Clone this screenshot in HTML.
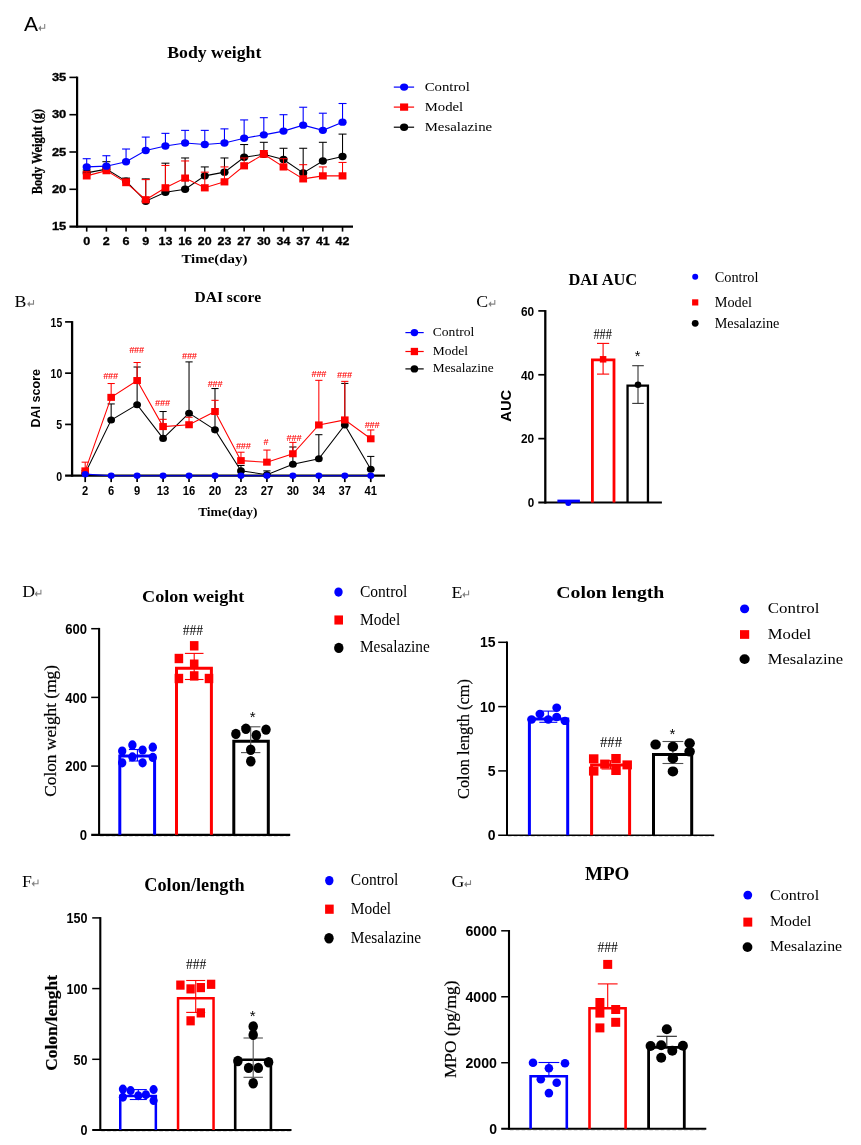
<!DOCTYPE html>
<html><head><meta charset="utf-8"><title>Figure</title>
<style>html,body{margin:0;padding:0;background:#fff;}body{width:861px;height:1145px;overflow:hidden;}svg{display:block;will-change:transform;}text{white-space:pre;}</style>
</head><body>
<svg width="861" height="1145" viewBox="0 0 861 1145">
<rect width="861" height="1145" fill="#fff"/>
<g id="panelA">
<text x="24.0" y="30.9" font-family="'Liberation Sans', sans-serif" font-size="21" font-weight="normal" text-anchor="start" fill="#000" >A</text>
<g transform="translate(38.30,28.30) scale(1.0)"><path d="M6.4 -4.2 V0 H1.6" stroke="#848484" stroke-width="1.1" fill="none"/><path d="M0 0 L2.7 -2.9 L2.7 2.9 Z" fill="#848484"/></g>
<text x="214.3" y="57.5" font-family="'Liberation Serif', serif" font-size="16" font-weight="bold" text-anchor="middle" fill="#000" textLength="94" lengthAdjust="spacingAndGlyphs" >Body weight</text>
<line x1="77.10" y1="76.60" x2="77.10" y2="227.60" stroke="#000" stroke-width="2.2" />
<line x1="69.40" y1="226.60" x2="353.00" y2="226.60" stroke="#000" stroke-width="2.2" />
<text x="66.3" y="230.29999999999998" font-family="'Liberation Sans', sans-serif" font-size="10.3" font-weight="bold" text-anchor="end" fill="#000" textLength="14.4" lengthAdjust="spacingAndGlyphs" stroke="#000" stroke-width="0.3">15</text>
<line x1="69.40" y1="189.30" x2="77.10" y2="189.30" stroke="#000" stroke-width="1.6" />
<text x="66.3" y="193.0" font-family="'Liberation Sans', sans-serif" font-size="10.3" font-weight="bold" text-anchor="end" fill="#000" textLength="14.4" lengthAdjust="spacingAndGlyphs" stroke="#000" stroke-width="0.3">20</text>
<line x1="69.40" y1="152.00" x2="77.10" y2="152.00" stroke="#000" stroke-width="1.6" />
<text x="66.3" y="155.7" font-family="'Liberation Sans', sans-serif" font-size="10.3" font-weight="bold" text-anchor="end" fill="#000" textLength="14.4" lengthAdjust="spacingAndGlyphs" stroke="#000" stroke-width="0.3">25</text>
<line x1="69.40" y1="114.70" x2="77.10" y2="114.70" stroke="#000" stroke-width="1.6" />
<text x="66.3" y="118.4" font-family="'Liberation Sans', sans-serif" font-size="10.3" font-weight="bold" text-anchor="end" fill="#000" textLength="14.4" lengthAdjust="spacingAndGlyphs" stroke="#000" stroke-width="0.3">30</text>
<line x1="69.40" y1="77.40" x2="77.10" y2="77.40" stroke="#000" stroke-width="1.6" />
<text x="66.3" y="81.10000000000001" font-family="'Liberation Sans', sans-serif" font-size="10.3" font-weight="bold" text-anchor="end" fill="#000" textLength="14.4" lengthAdjust="spacingAndGlyphs" stroke="#000" stroke-width="0.3">35</text>
<line x1="86.70" y1="226.60" x2="86.70" y2="231.60" stroke="#000" stroke-width="1.6" />
<text x="86.7" y="244.6" font-family="'Liberation Sans', sans-serif" font-size="10.6" font-weight="bold" text-anchor="middle" fill="#000" textLength="7.0" lengthAdjust="spacingAndGlyphs" stroke="#000" stroke-width="0.3">0</text>
<line x1="106.38" y1="226.60" x2="106.38" y2="231.60" stroke="#000" stroke-width="1.6" />
<text x="106.38" y="244.6" font-family="'Liberation Sans', sans-serif" font-size="10.6" font-weight="bold" text-anchor="middle" fill="#000" textLength="7.0" lengthAdjust="spacingAndGlyphs" stroke="#000" stroke-width="0.3">2</text>
<line x1="126.06" y1="226.60" x2="126.06" y2="231.60" stroke="#000" stroke-width="1.6" />
<text x="126.06" y="244.6" font-family="'Liberation Sans', sans-serif" font-size="10.6" font-weight="bold" text-anchor="middle" fill="#000" textLength="7.0" lengthAdjust="spacingAndGlyphs" stroke="#000" stroke-width="0.3">6</text>
<line x1="145.74" y1="226.60" x2="145.74" y2="231.60" stroke="#000" stroke-width="1.6" />
<text x="145.74" y="244.6" font-family="'Liberation Sans', sans-serif" font-size="10.6" font-weight="bold" text-anchor="middle" fill="#000" textLength="7.0" lengthAdjust="spacingAndGlyphs" stroke="#000" stroke-width="0.3">9</text>
<line x1="165.42" y1="226.60" x2="165.42" y2="231.60" stroke="#000" stroke-width="1.6" />
<text x="165.42000000000002" y="244.6" font-family="'Liberation Sans', sans-serif" font-size="10.6" font-weight="bold" text-anchor="middle" fill="#000" textLength="13.8" lengthAdjust="spacingAndGlyphs" stroke="#000" stroke-width="0.3">13</text>
<line x1="185.10" y1="226.60" x2="185.10" y2="231.60" stroke="#000" stroke-width="1.6" />
<text x="185.10000000000002" y="244.6" font-family="'Liberation Sans', sans-serif" font-size="10.6" font-weight="bold" text-anchor="middle" fill="#000" textLength="13.8" lengthAdjust="spacingAndGlyphs" stroke="#000" stroke-width="0.3">16</text>
<line x1="204.78" y1="226.60" x2="204.78" y2="231.60" stroke="#000" stroke-width="1.6" />
<text x="204.78" y="244.6" font-family="'Liberation Sans', sans-serif" font-size="10.6" font-weight="bold" text-anchor="middle" fill="#000" textLength="13.8" lengthAdjust="spacingAndGlyphs" stroke="#000" stroke-width="0.3">20</text>
<line x1="224.46" y1="226.60" x2="224.46" y2="231.60" stroke="#000" stroke-width="1.6" />
<text x="224.45999999999998" y="244.6" font-family="'Liberation Sans', sans-serif" font-size="10.6" font-weight="bold" text-anchor="middle" fill="#000" textLength="13.8" lengthAdjust="spacingAndGlyphs" stroke="#000" stroke-width="0.3">23</text>
<line x1="244.14" y1="226.60" x2="244.14" y2="231.60" stroke="#000" stroke-width="1.6" />
<text x="244.14" y="244.6" font-family="'Liberation Sans', sans-serif" font-size="10.6" font-weight="bold" text-anchor="middle" fill="#000" textLength="13.8" lengthAdjust="spacingAndGlyphs" stroke="#000" stroke-width="0.3">27</text>
<line x1="263.82" y1="226.60" x2="263.82" y2="231.60" stroke="#000" stroke-width="1.6" />
<text x="263.82" y="244.6" font-family="'Liberation Sans', sans-serif" font-size="10.6" font-weight="bold" text-anchor="middle" fill="#000" textLength="13.8" lengthAdjust="spacingAndGlyphs" stroke="#000" stroke-width="0.3">30</text>
<line x1="283.50" y1="226.60" x2="283.50" y2="231.60" stroke="#000" stroke-width="1.6" />
<text x="283.5" y="244.6" font-family="'Liberation Sans', sans-serif" font-size="10.6" font-weight="bold" text-anchor="middle" fill="#000" textLength="13.8" lengthAdjust="spacingAndGlyphs" stroke="#000" stroke-width="0.3">34</text>
<line x1="303.18" y1="226.60" x2="303.18" y2="231.60" stroke="#000" stroke-width="1.6" />
<text x="303.18" y="244.6" font-family="'Liberation Sans', sans-serif" font-size="10.6" font-weight="bold" text-anchor="middle" fill="#000" textLength="13.8" lengthAdjust="spacingAndGlyphs" stroke="#000" stroke-width="0.3">37</text>
<line x1="322.86" y1="226.60" x2="322.86" y2="231.60" stroke="#000" stroke-width="1.6" />
<text x="322.86" y="244.6" font-family="'Liberation Sans', sans-serif" font-size="10.6" font-weight="bold" text-anchor="middle" fill="#000" textLength="13.8" lengthAdjust="spacingAndGlyphs" stroke="#000" stroke-width="0.3">41</text>
<line x1="342.54" y1="226.60" x2="342.54" y2="231.60" stroke="#000" stroke-width="1.6" />
<text x="342.54" y="244.6" font-family="'Liberation Sans', sans-serif" font-size="10.6" font-weight="bold" text-anchor="middle" fill="#000" textLength="13.8" lengthAdjust="spacingAndGlyphs" stroke="#000" stroke-width="0.3">42</text>
<text x="214.4" y="262.7" font-family="'Liberation Serif', serif" font-size="12.8" font-weight="bold" text-anchor="middle" fill="#000" textLength="66" lengthAdjust="spacingAndGlyphs" >Time(day)</text>
<text font-family="'Liberation Serif', serif" font-size="14.6" font-weight="bold" text-anchor="middle" fill="#000" textLength="85.4" lengthAdjust="spacingAndGlyphs" transform="translate(42.3,151.6) rotate(-90)" stroke="#000" stroke-width="0.25">Body Weight (g)</text>
<line x1="86.70" y1="172.89" x2="86.70" y2="169.90" stroke="#000000" stroke-width="1.05" />
<line x1="82.70" y1="169.90" x2="90.70" y2="169.90" stroke="#000000" stroke-width="1.05" />
<line x1="106.38" y1="169.16" x2="106.38" y2="161.70" stroke="#000000" stroke-width="1.05" />
<line x1="102.38" y1="161.70" x2="110.38" y2="161.70" stroke="#000000" stroke-width="1.05" />
<line x1="126.06" y1="181.09" x2="126.06" y2="178.11" stroke="#000000" stroke-width="1.05" />
<line x1="122.06" y1="178.11" x2="130.06" y2="178.11" stroke="#000000" stroke-width="1.05" />
<line x1="145.74" y1="201.24" x2="145.74" y2="178.86" stroke="#000000" stroke-width="1.05" />
<line x1="141.74" y1="178.86" x2="149.74" y2="178.86" stroke="#000000" stroke-width="1.05" />
<line x1="165.42" y1="192.28" x2="165.42" y2="163.19" stroke="#000000" stroke-width="1.05" />
<line x1="161.42" y1="163.19" x2="169.42" y2="163.19" stroke="#000000" stroke-width="1.05" />
<line x1="185.10" y1="189.30" x2="185.10" y2="157.97" stroke="#000000" stroke-width="1.05" />
<line x1="181.10" y1="157.97" x2="189.10" y2="157.97" stroke="#000000" stroke-width="1.05" />
<line x1="204.78" y1="175.87" x2="204.78" y2="166.92" stroke="#000000" stroke-width="1.05" />
<line x1="200.78" y1="166.92" x2="208.78" y2="166.92" stroke="#000000" stroke-width="1.05" />
<line x1="224.46" y1="172.14" x2="224.46" y2="157.97" stroke="#000000" stroke-width="1.05" />
<line x1="220.46" y1="157.97" x2="228.46" y2="157.97" stroke="#000000" stroke-width="1.05" />
<line x1="244.14" y1="157.22" x2="244.14" y2="144.54" stroke="#000000" stroke-width="1.05" />
<line x1="240.14" y1="144.54" x2="248.14" y2="144.54" stroke="#000000" stroke-width="1.05" />
<line x1="263.82" y1="154.24" x2="263.82" y2="142.30" stroke="#000000" stroke-width="1.05" />
<line x1="259.82" y1="142.30" x2="267.82" y2="142.30" stroke="#000000" stroke-width="1.05" />
<line x1="283.50" y1="159.46" x2="283.50" y2="148.27" stroke="#000000" stroke-width="1.05" />
<line x1="279.50" y1="148.27" x2="287.50" y2="148.27" stroke="#000000" stroke-width="1.05" />
<line x1="303.18" y1="172.89" x2="303.18" y2="148.27" stroke="#000000" stroke-width="1.05" />
<line x1="299.18" y1="148.27" x2="307.18" y2="148.27" stroke="#000000" stroke-width="1.05" />
<line x1="322.86" y1="160.95" x2="322.86" y2="142.30" stroke="#000000" stroke-width="1.05" />
<line x1="318.86" y1="142.30" x2="326.86" y2="142.30" stroke="#000000" stroke-width="1.05" />
<line x1="342.54" y1="156.48" x2="342.54" y2="134.10" stroke="#000000" stroke-width="1.05" />
<line x1="338.54" y1="134.10" x2="346.54" y2="134.10" stroke="#000000" stroke-width="1.05" />
<polyline points="86.70,172.89 106.38,169.16 126.06,181.09 145.74,201.24 165.42,192.28 185.10,189.30 204.78,175.87 224.46,172.14 244.14,157.22 263.82,154.24 283.50,159.46 303.18,172.89 322.86,160.95 342.54,156.48" fill="none" stroke="#000000" stroke-width="1.05"/>
<ellipse cx="86.70" cy="172.89" rx="4.1" ry="3.69" fill="#000000"/>
<ellipse cx="106.38" cy="169.16" rx="4.1" ry="3.69" fill="#000000"/>
<ellipse cx="126.06" cy="181.09" rx="4.1" ry="3.69" fill="#000000"/>
<ellipse cx="145.74" cy="201.24" rx="4.1" ry="3.69" fill="#000000"/>
<ellipse cx="165.42" cy="192.28" rx="4.1" ry="3.69" fill="#000000"/>
<ellipse cx="185.10" cy="189.30" rx="4.1" ry="3.69" fill="#000000"/>
<ellipse cx="204.78" cy="175.87" rx="4.1" ry="3.69" fill="#000000"/>
<ellipse cx="224.46" cy="172.14" rx="4.1" ry="3.69" fill="#000000"/>
<ellipse cx="244.14" cy="157.22" rx="4.1" ry="3.69" fill="#000000"/>
<ellipse cx="263.82" cy="154.24" rx="4.1" ry="3.69" fill="#000000"/>
<ellipse cx="283.50" cy="159.46" rx="4.1" ry="3.69" fill="#000000"/>
<ellipse cx="303.18" cy="172.89" rx="4.1" ry="3.69" fill="#000000"/>
<ellipse cx="322.86" cy="160.95" rx="4.1" ry="3.69" fill="#000000"/>
<ellipse cx="342.54" cy="156.48" rx="4.1" ry="3.69" fill="#000000"/>
<line x1="86.70" y1="175.87" x2="86.70" y2="171.40" stroke="#ff0000" stroke-width="1.05" />
<line x1="82.70" y1="171.40" x2="90.70" y2="171.40" stroke="#ff0000" stroke-width="1.05" />
<line x1="106.38" y1="170.65" x2="106.38" y2="166.92" stroke="#ff0000" stroke-width="1.05" />
<line x1="102.38" y1="166.92" x2="110.38" y2="166.92" stroke="#ff0000" stroke-width="1.05" />
<line x1="126.06" y1="182.59" x2="126.06" y2="178.86" stroke="#ff0000" stroke-width="1.05" />
<line x1="122.06" y1="178.86" x2="130.06" y2="178.86" stroke="#ff0000" stroke-width="1.05" />
<line x1="145.74" y1="199.74" x2="145.74" y2="179.60" stroke="#ff0000" stroke-width="1.05" />
<line x1="141.74" y1="179.60" x2="149.74" y2="179.60" stroke="#ff0000" stroke-width="1.05" />
<line x1="165.42" y1="187.81" x2="165.42" y2="165.43" stroke="#ff0000" stroke-width="1.05" />
<line x1="161.42" y1="165.43" x2="169.42" y2="165.43" stroke="#ff0000" stroke-width="1.05" />
<line x1="185.10" y1="178.11" x2="185.10" y2="160.95" stroke="#ff0000" stroke-width="1.05" />
<line x1="181.10" y1="160.95" x2="189.10" y2="160.95" stroke="#ff0000" stroke-width="1.05" />
<line x1="204.78" y1="187.81" x2="204.78" y2="172.14" stroke="#ff0000" stroke-width="1.05" />
<line x1="200.78" y1="172.14" x2="208.78" y2="172.14" stroke="#ff0000" stroke-width="1.05" />
<line x1="224.46" y1="181.84" x2="224.46" y2="166.92" stroke="#ff0000" stroke-width="1.05" />
<line x1="220.46" y1="166.92" x2="228.46" y2="166.92" stroke="#ff0000" stroke-width="1.05" />
<line x1="244.14" y1="165.80" x2="244.14" y2="157.97" stroke="#ff0000" stroke-width="1.05" />
<line x1="240.14" y1="157.97" x2="248.14" y2="157.97" stroke="#ff0000" stroke-width="1.05" />
<line x1="263.82" y1="154.24" x2="263.82" y2="150.51" stroke="#ff0000" stroke-width="1.05" />
<line x1="259.82" y1="150.51" x2="267.82" y2="150.51" stroke="#ff0000" stroke-width="1.05" />
<line x1="283.50" y1="166.92" x2="283.50" y2="158.71" stroke="#ff0000" stroke-width="1.05" />
<line x1="279.50" y1="158.71" x2="287.50" y2="158.71" stroke="#ff0000" stroke-width="1.05" />
<line x1="303.18" y1="178.86" x2="303.18" y2="164.68" stroke="#ff0000" stroke-width="1.05" />
<line x1="299.18" y1="164.68" x2="307.18" y2="164.68" stroke="#ff0000" stroke-width="1.05" />
<line x1="322.86" y1="175.87" x2="322.86" y2="166.92" stroke="#ff0000" stroke-width="1.05" />
<line x1="318.86" y1="166.92" x2="326.86" y2="166.92" stroke="#ff0000" stroke-width="1.05" />
<line x1="342.54" y1="175.87" x2="342.54" y2="162.44" stroke="#ff0000" stroke-width="1.05" />
<line x1="338.54" y1="162.44" x2="346.54" y2="162.44" stroke="#ff0000" stroke-width="1.05" />
<polyline points="86.70,175.87 106.38,170.65 126.06,182.59 145.74,199.74 165.42,187.81 185.10,178.11 204.78,187.81 224.46,181.84 244.14,165.80 263.82,154.24 283.50,166.92 303.18,178.86 322.86,175.87 342.54,175.87" fill="none" stroke="#ff0000" stroke-width="1.05"/>
<rect x="82.80" y="172.26" width="7.8" height="7.215" fill="#ff0000"/>
<rect x="102.48" y="167.04" width="7.8" height="7.215" fill="#ff0000"/>
<rect x="122.16" y="178.98" width="7.8" height="7.215" fill="#ff0000"/>
<rect x="141.84" y="196.14" width="7.8" height="7.215" fill="#ff0000"/>
<rect x="161.52" y="184.20" width="7.8" height="7.215" fill="#ff0000"/>
<rect x="181.20" y="174.50" width="7.8" height="7.215" fill="#ff0000"/>
<rect x="200.88" y="184.20" width="7.8" height="7.215" fill="#ff0000"/>
<rect x="220.56" y="178.23" width="7.8" height="7.215" fill="#ff0000"/>
<rect x="240.24" y="162.19" width="7.8" height="7.215" fill="#ff0000"/>
<rect x="259.92" y="150.63" width="7.8" height="7.215" fill="#ff0000"/>
<rect x="279.60" y="163.31" width="7.8" height="7.215" fill="#ff0000"/>
<rect x="299.28" y="175.25" width="7.8" height="7.215" fill="#ff0000"/>
<rect x="318.96" y="172.26" width="7.8" height="7.215" fill="#ff0000"/>
<rect x="338.64" y="172.26" width="7.8" height="7.215" fill="#ff0000"/>
<line x1="86.70" y1="166.92" x2="86.70" y2="158.71" stroke="#0000ff" stroke-width="1.1" />
<line x1="82.70" y1="158.71" x2="90.70" y2="158.71" stroke="#0000ff" stroke-width="1.1" />
<line x1="106.38" y1="166.17" x2="106.38" y2="155.73" stroke="#0000ff" stroke-width="1.1" />
<line x1="102.38" y1="155.73" x2="110.38" y2="155.73" stroke="#0000ff" stroke-width="1.1" />
<line x1="126.06" y1="161.70" x2="126.06" y2="149.02" stroke="#0000ff" stroke-width="1.1" />
<line x1="122.06" y1="149.02" x2="130.06" y2="149.02" stroke="#0000ff" stroke-width="1.1" />
<line x1="145.74" y1="150.51" x2="145.74" y2="137.08" stroke="#0000ff" stroke-width="1.1" />
<line x1="141.74" y1="137.08" x2="149.74" y2="137.08" stroke="#0000ff" stroke-width="1.1" />
<line x1="165.42" y1="146.03" x2="165.42" y2="133.35" stroke="#0000ff" stroke-width="1.1" />
<line x1="161.42" y1="133.35" x2="169.42" y2="133.35" stroke="#0000ff" stroke-width="1.1" />
<line x1="185.10" y1="143.05" x2="185.10" y2="130.37" stroke="#0000ff" stroke-width="1.1" />
<line x1="181.10" y1="130.37" x2="189.10" y2="130.37" stroke="#0000ff" stroke-width="1.1" />
<line x1="204.78" y1="144.54" x2="204.78" y2="130.37" stroke="#0000ff" stroke-width="1.1" />
<line x1="200.78" y1="130.37" x2="208.78" y2="130.37" stroke="#0000ff" stroke-width="1.1" />
<line x1="224.46" y1="143.05" x2="224.46" y2="128.87" stroke="#0000ff" stroke-width="1.1" />
<line x1="220.46" y1="128.87" x2="228.46" y2="128.87" stroke="#0000ff" stroke-width="1.1" />
<line x1="244.14" y1="138.20" x2="244.14" y2="119.92" stroke="#0000ff" stroke-width="1.1" />
<line x1="240.14" y1="119.92" x2="248.14" y2="119.92" stroke="#0000ff" stroke-width="1.1" />
<line x1="263.82" y1="134.84" x2="263.82" y2="117.68" stroke="#0000ff" stroke-width="1.1" />
<line x1="259.82" y1="117.68" x2="267.82" y2="117.68" stroke="#0000ff" stroke-width="1.1" />
<line x1="283.50" y1="131.11" x2="283.50" y2="114.70" stroke="#0000ff" stroke-width="1.1" />
<line x1="279.50" y1="114.70" x2="287.50" y2="114.70" stroke="#0000ff" stroke-width="1.1" />
<line x1="303.18" y1="125.14" x2="303.18" y2="107.24" stroke="#0000ff" stroke-width="1.1" />
<line x1="299.18" y1="107.24" x2="307.18" y2="107.24" stroke="#0000ff" stroke-width="1.1" />
<line x1="322.86" y1="130.37" x2="322.86" y2="113.21" stroke="#0000ff" stroke-width="1.1" />
<line x1="318.86" y1="113.21" x2="326.86" y2="113.21" stroke="#0000ff" stroke-width="1.1" />
<line x1="342.54" y1="122.16" x2="342.54" y2="103.51" stroke="#0000ff" stroke-width="1.1" />
<line x1="338.54" y1="103.51" x2="346.54" y2="103.51" stroke="#0000ff" stroke-width="1.1" />
<polyline points="86.70,166.92 106.38,166.17 126.06,161.70 145.74,150.51 165.42,146.03 185.10,143.05 204.78,144.54 224.46,143.05 244.14,138.20 263.82,134.84 283.50,131.11 303.18,125.14 322.86,130.37 342.54,122.16" fill="none" stroke="#0000ff" stroke-width="1.1"/>
<ellipse cx="86.70" cy="166.92" rx="4.1" ry="3.69" fill="#0000ff"/>
<ellipse cx="106.38" cy="166.17" rx="4.1" ry="3.69" fill="#0000ff"/>
<ellipse cx="126.06" cy="161.70" rx="4.1" ry="3.69" fill="#0000ff"/>
<ellipse cx="145.74" cy="150.51" rx="4.1" ry="3.69" fill="#0000ff"/>
<ellipse cx="165.42" cy="146.03" rx="4.1" ry="3.69" fill="#0000ff"/>
<ellipse cx="185.10" cy="143.05" rx="4.1" ry="3.69" fill="#0000ff"/>
<ellipse cx="204.78" cy="144.54" rx="4.1" ry="3.69" fill="#0000ff"/>
<ellipse cx="224.46" cy="143.05" rx="4.1" ry="3.69" fill="#0000ff"/>
<ellipse cx="244.14" cy="138.20" rx="4.1" ry="3.69" fill="#0000ff"/>
<ellipse cx="263.82" cy="134.84" rx="4.1" ry="3.69" fill="#0000ff"/>
<ellipse cx="283.50" cy="131.11" rx="4.1" ry="3.69" fill="#0000ff"/>
<ellipse cx="303.18" cy="125.14" rx="4.1" ry="3.69" fill="#0000ff"/>
<ellipse cx="322.86" cy="130.37" rx="4.1" ry="3.69" fill="#0000ff"/>
<ellipse cx="342.54" cy="122.16" rx="4.1" ry="3.69" fill="#0000ff"/>
<line x1="393.80" y1="87.10" x2="414.10" y2="87.10" stroke="#0000ff" stroke-width="1.2" />
<ellipse cx="404.10" cy="87.10" rx="4.1" ry="3.7" fill="#0000ff"/>
<text x="424.7" y="90.8" font-family="'Liberation Serif', serif" font-size="13.5" font-weight="normal" text-anchor="start" fill="#000" textLength="45.2" lengthAdjust="spacingAndGlyphs" >Control</text>
<line x1="393.80" y1="107.10" x2="414.10" y2="107.10" stroke="#ff0000" stroke-width="1.2" />
<rect x="400.05" y="103.45" width="8.1" height="7.3" fill="#ff0000"/>
<text x="424.7" y="110.8" font-family="'Liberation Serif', serif" font-size="13.5" font-weight="normal" text-anchor="start" fill="#000" textLength="38.5" lengthAdjust="spacingAndGlyphs" >Model</text>
<line x1="393.80" y1="127.20" x2="414.10" y2="127.20" stroke="#000000" stroke-width="1.2" />
<ellipse cx="404.10" cy="127.20" rx="4.1" ry="3.7" fill="#000000"/>
<text x="424.7" y="130.9" font-family="'Liberation Serif', serif" font-size="13.5" font-weight="normal" text-anchor="start" fill="#000" textLength="67.5" lengthAdjust="spacingAndGlyphs" >Mesalazine</text>
</g>
<g id="panelB">
<text x="14.5" y="306.9" font-family="'Liberation Serif', serif" font-size="16.6" font-weight="normal" text-anchor="start" fill="#000" textLength="11.9" lengthAdjust="spacingAndGlyphs" >B</text>
<g transform="translate(27.10,304.10) scale(1.0)"><path d="M6.4 -4.2 V0 H1.6" stroke="#848484" stroke-width="1.1" fill="none"/><path d="M0 0 L2.7 -2.9 L2.7 2.9 Z" fill="#848484"/></g>
<text x="227.8" y="301.6" font-family="'Liberation Serif', serif" font-size="14.6" font-weight="bold" text-anchor="middle" fill="#000" textLength="66.6" lengthAdjust="spacingAndGlyphs" >DAI score</text>
<line x1="72.10" y1="321.10" x2="72.10" y2="476.70" stroke="#000" stroke-width="2.3" />
<line x1="65.10" y1="475.70" x2="385.00" y2="475.70" stroke="#000" stroke-width="2.3" />
<text x="62.2" y="480.5" font-family="'Liberation Sans', sans-serif" font-size="13.4" font-weight="bold" text-anchor="end" fill="#000" textLength="5.9" lengthAdjust="spacingAndGlyphs" >0</text>
<line x1="65.10" y1="424.43" x2="72.10" y2="424.43" stroke="#000" stroke-width="1.7" />
<text x="62.2" y="429.23333333333335" font-family="'Liberation Sans', sans-serif" font-size="13.4" font-weight="bold" text-anchor="end" fill="#000" textLength="5.9" lengthAdjust="spacingAndGlyphs" >5</text>
<line x1="65.10" y1="373.17" x2="72.10" y2="373.17" stroke="#000" stroke-width="1.7" />
<text x="62.2" y="377.96666666666664" font-family="'Liberation Sans', sans-serif" font-size="13.4" font-weight="bold" text-anchor="end" fill="#000" textLength="11.6" lengthAdjust="spacingAndGlyphs" >10</text>
<line x1="65.10" y1="321.90" x2="72.10" y2="321.90" stroke="#000" stroke-width="1.7" />
<text x="62.2" y="326.7" font-family="'Liberation Sans', sans-serif" font-size="13.4" font-weight="bold" text-anchor="end" fill="#000" textLength="11.6" lengthAdjust="spacingAndGlyphs" >15</text>
<line x1="85.20" y1="475.70" x2="85.20" y2="482.10" stroke="#000" stroke-width="1.7" />
<text x="85.2" y="495.0" font-family="'Liberation Sans', sans-serif" font-size="13.5" font-weight="bold" text-anchor="middle" fill="#000" textLength="6.2" lengthAdjust="spacingAndGlyphs" >2</text>
<line x1="111.16" y1="475.70" x2="111.16" y2="482.10" stroke="#000" stroke-width="1.7" />
<text x="111.16" y="495.0" font-family="'Liberation Sans', sans-serif" font-size="13.5" font-weight="bold" text-anchor="middle" fill="#000" textLength="6.2" lengthAdjust="spacingAndGlyphs" >6</text>
<line x1="137.12" y1="475.70" x2="137.12" y2="482.10" stroke="#000" stroke-width="1.7" />
<text x="137.12" y="495.0" font-family="'Liberation Sans', sans-serif" font-size="13.5" font-weight="bold" text-anchor="middle" fill="#000" textLength="6.2" lengthAdjust="spacingAndGlyphs" >9</text>
<line x1="163.08" y1="475.70" x2="163.08" y2="482.10" stroke="#000" stroke-width="1.7" />
<text x="163.07999999999998" y="495.0" font-family="'Liberation Sans', sans-serif" font-size="13.5" font-weight="bold" text-anchor="middle" fill="#000" textLength="12.5" lengthAdjust="spacingAndGlyphs" >13</text>
<line x1="189.04" y1="475.70" x2="189.04" y2="482.10" stroke="#000" stroke-width="1.7" />
<text x="189.04000000000002" y="495.0" font-family="'Liberation Sans', sans-serif" font-size="13.5" font-weight="bold" text-anchor="middle" fill="#000" textLength="12.5" lengthAdjust="spacingAndGlyphs" >16</text>
<line x1="215.00" y1="475.70" x2="215.00" y2="482.10" stroke="#000" stroke-width="1.7" />
<text x="215.0" y="495.0" font-family="'Liberation Sans', sans-serif" font-size="13.5" font-weight="bold" text-anchor="middle" fill="#000" textLength="12.5" lengthAdjust="spacingAndGlyphs" >20</text>
<line x1="240.96" y1="475.70" x2="240.96" y2="482.10" stroke="#000" stroke-width="1.7" />
<text x="240.95999999999998" y="495.0" font-family="'Liberation Sans', sans-serif" font-size="13.5" font-weight="bold" text-anchor="middle" fill="#000" textLength="12.5" lengthAdjust="spacingAndGlyphs" >23</text>
<line x1="266.92" y1="475.70" x2="266.92" y2="482.10" stroke="#000" stroke-width="1.7" />
<text x="266.92" y="495.0" font-family="'Liberation Sans', sans-serif" font-size="13.5" font-weight="bold" text-anchor="middle" fill="#000" textLength="12.5" lengthAdjust="spacingAndGlyphs" >27</text>
<line x1="292.88" y1="475.70" x2="292.88" y2="482.10" stroke="#000" stroke-width="1.7" />
<text x="292.88" y="495.0" font-family="'Liberation Sans', sans-serif" font-size="13.5" font-weight="bold" text-anchor="middle" fill="#000" textLength="12.5" lengthAdjust="spacingAndGlyphs" >30</text>
<line x1="318.84" y1="475.70" x2="318.84" y2="482.10" stroke="#000" stroke-width="1.7" />
<text x="318.84000000000003" y="495.0" font-family="'Liberation Sans', sans-serif" font-size="13.5" font-weight="bold" text-anchor="middle" fill="#000" textLength="12.5" lengthAdjust="spacingAndGlyphs" >34</text>
<line x1="344.80" y1="475.70" x2="344.80" y2="482.10" stroke="#000" stroke-width="1.7" />
<text x="344.8" y="495.0" font-family="'Liberation Sans', sans-serif" font-size="13.5" font-weight="bold" text-anchor="middle" fill="#000" textLength="12.5" lengthAdjust="spacingAndGlyphs" >37</text>
<line x1="370.76" y1="475.70" x2="370.76" y2="482.10" stroke="#000" stroke-width="1.7" />
<text x="370.76" y="495.0" font-family="'Liberation Sans', sans-serif" font-size="13.5" font-weight="bold" text-anchor="middle" fill="#000" textLength="12.5" lengthAdjust="spacingAndGlyphs" >41</text>
<text x="227.8" y="515.6" font-family="'Liberation Serif', serif" font-size="13.4" font-weight="bold" text-anchor="middle" fill="#000" textLength="59.3" lengthAdjust="spacingAndGlyphs" >Time(day)</text>
<text font-family="'Liberation Sans', sans-serif" font-size="13.7" font-weight="bold" text-anchor="middle" fill="#000" textLength="58.6" lengthAdjust="spacingAndGlyphs" transform="translate(39.6,398.3) rotate(-90)" >DAI score</text>
<line x1="85.20" y1="473.24" x2="85.20" y2="470.57" stroke="#000000" stroke-width="1.05" />
<line x1="81.60" y1="470.57" x2="88.80" y2="470.57" stroke="#000000" stroke-width="1.05" />
<line x1="111.16" y1="420.02" x2="111.16" y2="403.93" stroke="#000000" stroke-width="1.05" />
<line x1="107.56" y1="403.93" x2="114.76" y2="403.93" stroke="#000000" stroke-width="1.05" />
<line x1="137.12" y1="404.64" x2="137.12" y2="367.01" stroke="#000000" stroke-width="1.05" />
<line x1="133.52" y1="367.01" x2="140.72" y2="367.01" stroke="#000000" stroke-width="1.05" />
<line x1="163.08" y1="438.38" x2="163.08" y2="411.51" stroke="#000000" stroke-width="1.05" />
<line x1="159.48" y1="411.51" x2="166.68" y2="411.51" stroke="#000000" stroke-width="1.05" />
<line x1="189.04" y1="413.15" x2="189.04" y2="361.89" stroke="#000000" stroke-width="1.05" />
<line x1="185.44" y1="361.89" x2="192.64" y2="361.89" stroke="#000000" stroke-width="1.05" />
<line x1="215.00" y1="429.87" x2="215.00" y2="388.55" stroke="#000000" stroke-width="1.05" />
<line x1="211.40" y1="388.55" x2="218.60" y2="388.55" stroke="#000000" stroke-width="1.05" />
<line x1="240.96" y1="470.88" x2="240.96" y2="465.45" stroke="#000000" stroke-width="1.05" />
<line x1="237.36" y1="465.45" x2="244.56" y2="465.45" stroke="#000000" stroke-width="1.05" />
<line x1="266.92" y1="474.67" x2="266.92" y2="470.88" stroke="#000000" stroke-width="1.05" />
<line x1="263.32" y1="470.88" x2="270.52" y2="470.88" stroke="#000000" stroke-width="1.05" />
<line x1="292.88" y1="464.22" x2="292.88" y2="446.99" stroke="#000000" stroke-width="1.05" />
<line x1="289.28" y1="446.99" x2="296.48" y2="446.99" stroke="#000000" stroke-width="1.05" />
<line x1="318.84" y1="458.78" x2="318.84" y2="434.69" stroke="#000000" stroke-width="1.05" />
<line x1="315.24" y1="434.69" x2="322.44" y2="434.69" stroke="#000000" stroke-width="1.05" />
<line x1="344.80" y1="424.95" x2="344.80" y2="383.42" stroke="#000000" stroke-width="1.05" />
<line x1="341.20" y1="383.42" x2="348.40" y2="383.42" stroke="#000000" stroke-width="1.05" />
<line x1="370.76" y1="469.24" x2="370.76" y2="456.42" stroke="#000000" stroke-width="1.05" />
<line x1="367.16" y1="456.42" x2="374.36" y2="456.42" stroke="#000000" stroke-width="1.05" />
<polyline points="85.20,473.24 111.16,420.02 137.12,404.64 163.08,438.38 189.04,413.15 215.00,429.87 240.96,470.88 266.92,474.67 292.88,464.22 318.84,458.78 344.80,424.95 370.76,469.24" fill="none" stroke="#000000" stroke-width="1.05"/>
<ellipse cx="85.20" cy="473.24" rx="3.9" ry="3.51" fill="#000000"/>
<ellipse cx="111.16" cy="420.02" rx="3.9" ry="3.51" fill="#000000"/>
<ellipse cx="137.12" cy="404.64" rx="3.9" ry="3.51" fill="#000000"/>
<ellipse cx="163.08" cy="438.38" rx="3.9" ry="3.51" fill="#000000"/>
<ellipse cx="189.04" cy="413.15" rx="3.9" ry="3.51" fill="#000000"/>
<ellipse cx="215.00" cy="429.87" rx="3.9" ry="3.51" fill="#000000"/>
<ellipse cx="240.96" cy="470.88" rx="3.9" ry="3.51" fill="#000000"/>
<ellipse cx="266.92" cy="474.67" rx="3.9" ry="3.51" fill="#000000"/>
<ellipse cx="292.88" cy="464.22" rx="3.9" ry="3.51" fill="#000000"/>
<ellipse cx="318.84" cy="458.78" rx="3.9" ry="3.51" fill="#000000"/>
<ellipse cx="344.80" cy="424.95" rx="3.9" ry="3.51" fill="#000000"/>
<ellipse cx="370.76" cy="469.24" rx="3.9" ry="3.51" fill="#000000"/>
<line x1="85.20" y1="470.88" x2="85.20" y2="462.17" stroke="#ff0000" stroke-width="1.05" />
<line x1="81.60" y1="462.17" x2="88.80" y2="462.17" stroke="#ff0000" stroke-width="1.05" />
<line x1="111.16" y1="397.36" x2="111.16" y2="383.52" stroke="#ff0000" stroke-width="1.05" />
<line x1="107.56" y1="383.52" x2="114.76" y2="383.52" stroke="#ff0000" stroke-width="1.05" />
<line x1="137.12" y1="380.55" x2="137.12" y2="362.50" stroke="#ff0000" stroke-width="1.05" />
<line x1="133.52" y1="362.50" x2="140.72" y2="362.50" stroke="#ff0000" stroke-width="1.05" />
<line x1="163.08" y1="426.59" x2="163.08" y2="419.31" stroke="#ff0000" stroke-width="1.05" />
<line x1="159.48" y1="419.31" x2="166.68" y2="419.31" stroke="#ff0000" stroke-width="1.05" />
<line x1="189.04" y1="424.74" x2="189.04" y2="417.26" stroke="#ff0000" stroke-width="1.05" />
<line x1="185.44" y1="417.26" x2="192.64" y2="417.26" stroke="#ff0000" stroke-width="1.05" />
<line x1="215.00" y1="411.51" x2="215.00" y2="400.34" stroke="#ff0000" stroke-width="1.05" />
<line x1="211.40" y1="400.34" x2="218.60" y2="400.34" stroke="#ff0000" stroke-width="1.05" />
<line x1="240.96" y1="460.63" x2="240.96" y2="452.22" stroke="#ff0000" stroke-width="1.05" />
<line x1="237.36" y1="452.22" x2="244.56" y2="452.22" stroke="#ff0000" stroke-width="1.05" />
<line x1="266.92" y1="462.17" x2="266.92" y2="450.07" stroke="#ff0000" stroke-width="1.05" />
<line x1="263.32" y1="450.07" x2="270.52" y2="450.07" stroke="#ff0000" stroke-width="1.05" />
<line x1="292.88" y1="453.76" x2="292.88" y2="442.38" stroke="#ff0000" stroke-width="1.05" />
<line x1="289.28" y1="442.38" x2="296.48" y2="442.38" stroke="#ff0000" stroke-width="1.05" />
<line x1="318.84" y1="424.95" x2="318.84" y2="380.34" stroke="#ff0000" stroke-width="1.05" />
<line x1="315.24" y1="380.34" x2="322.44" y2="380.34" stroke="#ff0000" stroke-width="1.05" />
<line x1="344.80" y1="419.92" x2="344.80" y2="381.37" stroke="#ff0000" stroke-width="1.05" />
<line x1="341.20" y1="381.37" x2="348.40" y2="381.37" stroke="#ff0000" stroke-width="1.05" />
<line x1="370.76" y1="438.79" x2="370.76" y2="429.97" stroke="#ff0000" stroke-width="1.05" />
<line x1="367.16" y1="429.97" x2="374.36" y2="429.97" stroke="#ff0000" stroke-width="1.05" />
<polyline points="85.20,470.88 111.16,397.36 137.12,380.55 163.08,426.59 189.04,424.74 215.00,411.51 240.96,460.63 266.92,462.17 292.88,453.76 318.84,424.95 344.80,419.92 370.76,438.79" fill="none" stroke="#ff0000" stroke-width="1.05"/>
<rect x="81.40" y="467.37" width="7.6" height="7.03" fill="#ff0000"/>
<rect x="107.36" y="393.85" width="7.6" height="7.03" fill="#ff0000"/>
<rect x="133.32" y="377.03" width="7.6" height="7.03" fill="#ff0000"/>
<rect x="159.28" y="423.07" width="7.6" height="7.03" fill="#ff0000"/>
<rect x="185.24" y="421.23" width="7.6" height="7.03" fill="#ff0000"/>
<rect x="211.20" y="408.00" width="7.6" height="7.03" fill="#ff0000"/>
<rect x="237.16" y="457.11" width="7.6" height="7.03" fill="#ff0000"/>
<rect x="263.12" y="458.65" width="7.6" height="7.03" fill="#ff0000"/>
<rect x="289.08" y="450.24" width="7.6" height="7.03" fill="#ff0000"/>
<rect x="315.04" y="421.43" width="7.6" height="7.03" fill="#ff0000"/>
<rect x="341.00" y="416.41" width="7.6" height="7.03" fill="#ff0000"/>
<rect x="366.96" y="435.27" width="7.6" height="7.03" fill="#ff0000"/>
<polyline points="85.20,474.16 111.16,475.70 137.12,475.70 163.08,475.70 189.04,475.70 215.00,475.70 240.96,475.70 266.92,475.70 292.88,475.70 318.84,475.70 344.80,475.70 370.76,475.70" fill="none" stroke="#0000ff" stroke-width="1.1"/>
<ellipse cx="85.20" cy="474.16" rx="3.5" ry="3.15" fill="#0000ff"/>
<ellipse cx="111.16" cy="475.70" rx="3.5" ry="3.15" fill="#0000ff"/>
<ellipse cx="137.12" cy="475.70" rx="3.5" ry="3.15" fill="#0000ff"/>
<ellipse cx="163.08" cy="475.70" rx="3.5" ry="3.15" fill="#0000ff"/>
<ellipse cx="189.04" cy="475.70" rx="3.5" ry="3.15" fill="#0000ff"/>
<ellipse cx="215.00" cy="475.70" rx="3.5" ry="3.15" fill="#0000ff"/>
<ellipse cx="240.96" cy="475.70" rx="3.5" ry="3.15" fill="#0000ff"/>
<ellipse cx="266.92" cy="475.70" rx="3.5" ry="3.15" fill="#0000ff"/>
<ellipse cx="292.88" cy="475.70" rx="3.5" ry="3.15" fill="#0000ff"/>
<ellipse cx="318.84" cy="475.70" rx="3.5" ry="3.15" fill="#0000ff"/>
<ellipse cx="344.80" cy="475.70" rx="3.5" ry="3.15" fill="#0000ff"/>
<ellipse cx="370.76" cy="475.70" rx="3.5" ry="3.15" fill="#0000ff"/>
<text x="110.6" y="378.5" font-family="'Liberation Sans', sans-serif" font-size="8.4" font-weight="normal" text-anchor="middle" fill="#ff0000" textLength="14.8" lengthAdjust="spacingAndGlyphs" font-style="italic" stroke="#ff0000" stroke-width="0.1">###</text>
<text x="136.6" y="353.4" font-family="'Liberation Sans', sans-serif" font-size="8.4" font-weight="normal" text-anchor="middle" fill="#ff0000" textLength="14.8" lengthAdjust="spacingAndGlyphs" font-style="italic" stroke="#ff0000" stroke-width="0.1">###</text>
<text x="162.5" y="406.0" font-family="'Liberation Sans', sans-serif" font-size="8.4" font-weight="normal" text-anchor="middle" fill="#ff0000" textLength="14.8" lengthAdjust="spacingAndGlyphs" font-style="italic" stroke="#ff0000" stroke-width="0.1">###</text>
<text x="189.4" y="358.5" font-family="'Liberation Sans', sans-serif" font-size="8.4" font-weight="normal" text-anchor="middle" fill="#ff0000" textLength="14.8" lengthAdjust="spacingAndGlyphs" font-style="italic" stroke="#ff0000" stroke-width="0.1">###</text>
<text x="215.1" y="386.6" font-family="'Liberation Sans', sans-serif" font-size="8.4" font-weight="normal" text-anchor="middle" fill="#ff0000" textLength="14.8" lengthAdjust="spacingAndGlyphs" font-style="italic" stroke="#ff0000" stroke-width="0.1">###</text>
<text x="243.3" y="448.8" font-family="'Liberation Sans', sans-serif" font-size="8.4" font-weight="normal" text-anchor="middle" fill="#ff0000" textLength="14.8" lengthAdjust="spacingAndGlyphs" font-style="italic" stroke="#ff0000" stroke-width="0.1">###</text>
<text x="266" y="444.7" font-family="'Liberation Sans', sans-serif" font-size="8.4" font-weight="normal" text-anchor="middle" fill="#ff0000" textLength="4.8" lengthAdjust="spacingAndGlyphs" font-style="italic" stroke="#ff0000" stroke-width="0.1">#</text>
<text x="294" y="440.6" font-family="'Liberation Sans', sans-serif" font-size="8.4" font-weight="normal" text-anchor="middle" fill="#ff0000" textLength="14.8" lengthAdjust="spacingAndGlyphs" font-style="italic" stroke="#ff0000" stroke-width="0.1">###</text>
<text x="318.9" y="376.6" font-family="'Liberation Sans', sans-serif" font-size="8.4" font-weight="normal" text-anchor="middle" fill="#ff0000" textLength="14.8" lengthAdjust="spacingAndGlyphs" font-style="italic" stroke="#ff0000" stroke-width="0.1">###</text>
<text x="344.5" y="377.6" font-family="'Liberation Sans', sans-serif" font-size="8.4" font-weight="normal" text-anchor="middle" fill="#ff0000" textLength="14.8" lengthAdjust="spacingAndGlyphs" font-style="italic" stroke="#ff0000" stroke-width="0.1">###</text>
<text x="372.1" y="427.8" font-family="'Liberation Sans', sans-serif" font-size="8.4" font-weight="normal" text-anchor="middle" fill="#ff0000" textLength="14.8" lengthAdjust="spacingAndGlyphs" font-style="italic" stroke="#ff0000" stroke-width="0.1">###</text>
<line x1="405.40" y1="332.60" x2="423.70" y2="332.60" stroke="#0000ff" stroke-width="1.2" />
<ellipse cx="414.40" cy="332.60" rx="3.8" ry="3.6" fill="#0000ff"/>
<text x="432.8" y="335.70000000000005" font-family="'Liberation Serif', serif" font-size="13.4" font-weight="normal" text-anchor="start" fill="#000" textLength="41.4" lengthAdjust="spacingAndGlyphs" >Control</text>
<line x1="405.40" y1="351.50" x2="423.70" y2="351.50" stroke="#ff0000" stroke-width="1.2" />
<rect x="410.75" y="347.85" width="7.3" height="7.3" fill="#ff0000"/>
<text x="432.8" y="354.6" font-family="'Liberation Serif', serif" font-size="13.4" font-weight="normal" text-anchor="start" fill="#000" textLength="35.2" lengthAdjust="spacingAndGlyphs" >Model</text>
<line x1="405.40" y1="368.90" x2="423.70" y2="368.90" stroke="#000000" stroke-width="1.2" />
<ellipse cx="414.40" cy="368.90" rx="3.8" ry="3.6" fill="#000000"/>
<text x="432.8" y="372.0" font-family="'Liberation Serif', serif" font-size="13.4" font-weight="normal" text-anchor="start" fill="#000" textLength="60.8" lengthAdjust="spacingAndGlyphs" >Mesalazine</text>
</g>
<g id="panelC">
<text x="476.2" y="306.7" font-family="'Liberation Serif', serif" font-size="16.6" font-weight="normal" text-anchor="start" fill="#000" textLength="11.9" lengthAdjust="spacingAndGlyphs" >C</text>
<g transform="translate(488.40,304.10) scale(1.0)"><path d="M6.4 -4.2 V0 H1.6" stroke="#848484" stroke-width="1.1" fill="none"/><path d="M0 0 L2.7 -2.9 L2.7 2.9 Z" fill="#848484"/></g>
<text x="602.8" y="285.1" font-family="'Liberation Serif', serif" font-size="16.4" font-weight="bold" text-anchor="middle" fill="#000" textLength="68.8" lengthAdjust="spacingAndGlyphs" >DAI AUC</text>
<line x1="545.30" y1="310.10" x2="545.30" y2="503.60" stroke="#000" stroke-width="2.3" />
<line x1="538.30" y1="502.50" x2="661.90" y2="502.50" stroke="#000" stroke-width="2.2" />
<text x="534.2" y="507.3" font-family="'Liberation Sans', sans-serif" font-size="13.4" font-weight="bold" text-anchor="end" fill="#000" textLength="6.5" lengthAdjust="spacingAndGlyphs" >0</text>
<line x1="538.30" y1="438.63" x2="545.30" y2="438.63" stroke="#000" stroke-width="1.7" />
<text x="534.2" y="443.43333333333334" font-family="'Liberation Sans', sans-serif" font-size="13.4" font-weight="bold" text-anchor="end" fill="#000" textLength="13.2" lengthAdjust="spacingAndGlyphs" >20</text>
<line x1="538.30" y1="374.77" x2="545.30" y2="374.77" stroke="#000" stroke-width="1.7" />
<text x="534.2" y="379.56666666666666" font-family="'Liberation Sans', sans-serif" font-size="13.4" font-weight="bold" text-anchor="end" fill="#000" textLength="13.2" lengthAdjust="spacingAndGlyphs" >40</text>
<line x1="538.30" y1="310.90" x2="545.30" y2="310.90" stroke="#000" stroke-width="1.7" />
<text x="534.2" y="315.7" font-family="'Liberation Sans', sans-serif" font-size="13.4" font-weight="bold" text-anchor="end" fill="#000" textLength="13.2" lengthAdjust="spacingAndGlyphs" >60</text>
<text font-family="'Liberation Sans', sans-serif" font-size="15.2" font-weight="bold" text-anchor="middle" fill="#000" textLength="31.8" lengthAdjust="spacingAndGlyphs" transform="translate(510.8,405.8) rotate(-90)" >AUC</text>
<rect x="557.4" y="499.6" width="22.5" height="2.9" fill="#0000ff"/>
<circle cx="568.30" cy="503.00" r="3.0" fill="#0000ff"/>
<path d="M592.40 502.50 V359.90 H614.00 V502.50" fill="none" stroke="#ff0000" stroke-width="2.8" stroke-linejoin="miter"/>
<path d="M627.55 502.50 V385.65 H647.95 V502.50" fill="none" stroke="#000000" stroke-width="2.3" stroke-linejoin="miter"/>
<line x1="603.10" y1="343.40" x2="603.10" y2="374.10" stroke="#ff0000" stroke-width="1.1" />
<line x1="597.00" y1="343.40" x2="609.20" y2="343.40" stroke="#ff0000" stroke-width="1.1" />
<line x1="597.00" y1="374.10" x2="609.20" y2="374.10" stroke="#ff0000" stroke-width="1.1" />
<rect x="599.85" y="356.05" width="6.5" height="6.5" fill="#ff0000"/>
<line x1="638.00" y1="365.70" x2="638.00" y2="403.40" stroke="#333" stroke-width="1.1" />
<line x1="632.20" y1="365.70" x2="643.80" y2="365.70" stroke="#333" stroke-width="1.1" />
<line x1="632.20" y1="403.40" x2="643.80" y2="403.40" stroke="#333" stroke-width="1.1" />
<circle cx="638.00" cy="384.70" r="3.3" fill="#000000"/>
<text x="602.7" y="339.0" font-family="'Liberation Serif', serif" font-size="14.5" font-weight="normal" text-anchor="middle" fill="#000" textLength="18.6" lengthAdjust="spacingAndGlyphs" >###</text>
<text x="637.5" y="361.2" font-family="'Liberation Sans', sans-serif" font-size="14.5" font-weight="normal" text-anchor="middle" fill="#000" >*</text>
<circle cx="695.20" cy="276.70" r="3.0" fill="#0000ff"/>
<text x="714.7" y="281.5" font-family="'Liberation Serif', serif" font-size="15" font-weight="normal" text-anchor="start" fill="#000" textLength="43.8" lengthAdjust="spacingAndGlyphs" >Control</text>
<rect x="692.10" y="299.30" width="6.2" height="6.2" fill="#ff0000"/>
<text x="714.7" y="307.1" font-family="'Liberation Serif', serif" font-size="15" font-weight="normal" text-anchor="start" fill="#000" textLength="37.3" lengthAdjust="spacingAndGlyphs" >Model</text>
<circle cx="695.20" cy="323.30" r="3.4" fill="#000000"/>
<text x="714.7" y="328.0" font-family="'Liberation Serif', serif" font-size="15" font-weight="normal" text-anchor="start" fill="#000" textLength="64.7" lengthAdjust="spacingAndGlyphs" >Mesalazine</text>
</g>
<g id="panelD">
<text x="22.3" y="596.7" font-family="'Liberation Serif', serif" font-size="16.6" font-weight="normal" text-anchor="start" fill="#000" textLength="12.82" lengthAdjust="spacingAndGlyphs" >D</text>
<g transform="translate(34.50,593.90) scale(1.0)"><path d="M6.4 -4.2 V0 H1.6" stroke="#848484" stroke-width="1.1" fill="none"/><path d="M0 0 L2.7 -2.9 L2.7 2.9 Z" fill="#848484"/></g>
<text x="193.2" y="602.0" font-family="'Liberation Serif', serif" font-size="17.4" font-weight="bold" text-anchor="middle" fill="#000" textLength="102.3" lengthAdjust="spacingAndGlyphs" >Colon weight</text>
<line x1="99.10" y1="627.90" x2="99.10" y2="835.90" stroke="#000" stroke-width="2.1" />
<line x1="100.10" y1="836.35" x2="290.20" y2="836.35" stroke="#cfcfcf" stroke-width="0.9" stroke-dasharray="3.6 2.2"/>
<line x1="91.20" y1="834.80" x2="290.20" y2="834.80" stroke="#000" stroke-width="2.2" />
<text x="87.0" y="840.0268" font-family="'Liberation Sans', sans-serif" font-size="14.6" font-weight="bold" text-anchor="end" fill="#000" textLength="7.3" lengthAdjust="spacingAndGlyphs" >0</text>
<line x1="91.20" y1="766.10" x2="99.10" y2="766.10" stroke="#000" stroke-width="1.5" />
<text x="87.0" y="771.3268" font-family="'Liberation Sans', sans-serif" font-size="14.6" font-weight="bold" text-anchor="end" fill="#000" textLength="21.8" lengthAdjust="spacingAndGlyphs" >200</text>
<line x1="91.20" y1="697.40" x2="99.10" y2="697.40" stroke="#000" stroke-width="1.5" />
<text x="87.0" y="702.6268" font-family="'Liberation Sans', sans-serif" font-size="14.6" font-weight="bold" text-anchor="end" fill="#000" textLength="21.8" lengthAdjust="spacingAndGlyphs" >400</text>
<line x1="91.20" y1="628.70" x2="99.10" y2="628.70" stroke="#000" stroke-width="1.5" />
<text x="87.0" y="633.9268000000001" font-family="'Liberation Sans', sans-serif" font-size="14.6" font-weight="bold" text-anchor="end" fill="#000" textLength="21.8" lengthAdjust="spacingAndGlyphs" >600</text>
<text font-family="'Liberation Serif', serif" font-size="17.3" font-weight="normal" text-anchor="middle" fill="#000" textLength="131.9" lengthAdjust="spacingAndGlyphs" transform="translate(56.2,730.9) rotate(-90)" stroke="#000" stroke-width="0.2">Colon weight (mg)</text>
<path d="M119.80 834.80 V755.90 H154.60 V834.80" fill="none" stroke="#0000ff" stroke-width="3.0" stroke-linejoin="miter"/>
<path d="M176.50 834.80 V668.20 H211.40 V834.80" fill="none" stroke="#ff0000" stroke-width="3.0" stroke-linejoin="miter"/>
<path d="M233.80 834.80 V741.30 H268.30 V834.80" fill="none" stroke="#000000" stroke-width="3.0" stroke-linejoin="miter"/>
<line x1="137.40" y1="749.50" x2="137.40" y2="761.00" stroke="#0000ff" stroke-width="1.1" />
<line x1="128.90" y1="749.50" x2="145.90" y2="749.50" stroke="#0000ff" stroke-width="1.1" />
<line x1="128.90" y1="761.00" x2="145.90" y2="761.00" stroke="#0000ff" stroke-width="1.1" />
<line x1="194.20" y1="653.40" x2="194.20" y2="679.50" stroke="#ff0000" stroke-width="1.1" />
<line x1="184.90" y1="653.40" x2="203.50" y2="653.40" stroke="#ff0000" stroke-width="1.1" />
<line x1="184.90" y1="679.50" x2="203.50" y2="679.50" stroke="#ff0000" stroke-width="1.1" />
<line x1="250.70" y1="726.80" x2="250.70" y2="752.60" stroke="#505050" stroke-width="1.1" />
<line x1="241.00" y1="726.80" x2="260.40" y2="726.80" stroke="#505050" stroke-width="1.1" />
<line x1="241.00" y1="752.60" x2="260.40" y2="752.60" stroke="#505050" stroke-width="1.1" />
<ellipse cx="122.20" cy="751.00" rx="4.19" ry="4.59" fill="#0000ff"/>
<ellipse cx="132.40" cy="744.90" rx="4.19" ry="4.59" fill="#0000ff"/>
<ellipse cx="142.60" cy="750.00" rx="4.19" ry="4.59" fill="#0000ff"/>
<ellipse cx="152.80" cy="747.20" rx="4.19" ry="4.59" fill="#0000ff"/>
<ellipse cx="122.20" cy="762.80" rx="4.19" ry="4.59" fill="#0000ff"/>
<ellipse cx="132.40" cy="756.90" rx="4.19" ry="4.59" fill="#0000ff"/>
<ellipse cx="142.60" cy="762.80" rx="4.19" ry="4.59" fill="#0000ff"/>
<ellipse cx="152.80" cy="757.40" rx="4.19" ry="4.59" fill="#0000ff"/>
<rect x="174.62" y="653.81" width="8.56" height="9.38" fill="#ff0000"/>
<rect x="189.92" y="641.11" width="8.56" height="9.38" fill="#ff0000"/>
<rect x="189.92" y="659.51" width="8.56" height="9.38" fill="#ff0000"/>
<rect x="174.62" y="673.81" width="8.56" height="9.38" fill="#ff0000"/>
<rect x="189.92" y="671.21" width="8.56" height="9.38" fill="#ff0000"/>
<rect x="204.72" y="673.81" width="8.56" height="9.38" fill="#ff0000"/>
<ellipse cx="235.90" cy="733.90" rx="4.74" ry="5.2" fill="#000000"/>
<ellipse cx="245.90" cy="728.70" rx="4.74" ry="5.2" fill="#000000"/>
<ellipse cx="256.30" cy="735.20" rx="4.74" ry="5.2" fill="#000000"/>
<ellipse cx="266.00" cy="729.60" rx="4.74" ry="5.2" fill="#000000"/>
<ellipse cx="250.70" cy="749.80" rx="4.74" ry="5.2" fill="#000000"/>
<ellipse cx="250.80" cy="761.20" rx="4.74" ry="5.2" fill="#000000"/>
<text x="192.9" y="634.6" font-family="'Liberation Serif', serif" font-size="14.2" font-weight="normal" text-anchor="middle" fill="#000" textLength="20.4" lengthAdjust="spacingAndGlyphs" >###</text>
<text x="252.7" y="722.0" font-family="'Liberation Sans', sans-serif" font-size="15" font-weight="normal" text-anchor="middle" fill="#000" >*</text>
<ellipse cx="338.50" cy="592.10" rx="4.2" ry="4.6" fill="#0000ff"/>
<text x="360.0" y="596.6" font-family="'Liberation Serif', serif" font-size="16" font-weight="normal" text-anchor="start" fill="#000" textLength="47.4" lengthAdjust="spacingAndGlyphs" >Control</text>
<rect x="334.40" y="615.45" width="8.6" height="9.1" fill="#ff0000"/>
<text x="360.0" y="624.5" font-family="'Liberation Serif', serif" font-size="16" font-weight="normal" text-anchor="start" fill="#000" textLength="40.2" lengthAdjust="spacingAndGlyphs" >Model</text>
<ellipse cx="338.80" cy="647.90" rx="4.7" ry="5.2" fill="#000000"/>
<text x="360.0" y="652.4" font-family="'Liberation Serif', serif" font-size="16" font-weight="normal" text-anchor="start" fill="#000" textLength="69.7" lengthAdjust="spacingAndGlyphs" >Mesalazine</text>
</g>
<g id="panelE">
<text x="451.5" y="597.6" font-family="'Liberation Serif', serif" font-size="16.6" font-weight="normal" text-anchor="start" fill="#000" textLength="10.85" lengthAdjust="spacingAndGlyphs" >E</text>
<g transform="translate(462.20,594.80) scale(1.0)"><path d="M6.4 -4.2 V0 H1.6" stroke="#848484" stroke-width="1.1" fill="none"/><path d="M0 0 L2.7 -2.9 L2.7 2.9 Z" fill="#848484"/></g>
<text x="610.3" y="598.2" font-family="'Liberation Serif', serif" font-size="17.5" font-weight="bold" text-anchor="middle" fill="#000" textLength="108.1" lengthAdjust="spacingAndGlyphs" >Colon length</text>
<line x1="507.00" y1="641.50" x2="507.00" y2="835.90" stroke="#000" stroke-width="2.0" />
<line x1="508.00" y1="836.35" x2="714.20" y2="836.35" stroke="#cfcfcf" stroke-width="0.9" stroke-dasharray="3.6 2.2"/>
<line x1="498.20" y1="835.20" x2="714.20" y2="835.20" stroke="#000" stroke-width="1.4" />
<text x="495.5" y="840.1404" font-family="'Liberation Sans', sans-serif" font-size="13.8" font-weight="bold" text-anchor="end" fill="#000" textLength="7.8" lengthAdjust="spacingAndGlyphs" >0</text>
<line x1="498.20" y1="770.90" x2="507.00" y2="770.90" stroke="#000" stroke-width="1.5" />
<text x="495.5" y="775.8403999999999" font-family="'Liberation Sans', sans-serif" font-size="13.8" font-weight="bold" text-anchor="end" fill="#000" textLength="7.8" lengthAdjust="spacingAndGlyphs" >5</text>
<line x1="498.20" y1="706.60" x2="507.00" y2="706.60" stroke="#000" stroke-width="1.5" />
<text x="495.5" y="711.5404" font-family="'Liberation Sans', sans-serif" font-size="13.8" font-weight="bold" text-anchor="end" fill="#000" textLength="15.6" lengthAdjust="spacingAndGlyphs" >10</text>
<line x1="498.20" y1="642.30" x2="507.00" y2="642.30" stroke="#000" stroke-width="1.5" />
<text x="495.5" y="647.2403999999999" font-family="'Liberation Sans', sans-serif" font-size="13.8" font-weight="bold" text-anchor="end" fill="#000" textLength="15.6" lengthAdjust="spacingAndGlyphs" >15</text>
<text font-family="'Liberation Serif', serif" font-size="16.3" font-weight="normal" text-anchor="middle" fill="#000" textLength="120" lengthAdjust="spacingAndGlyphs" transform="translate(468.9,739.0) rotate(-90)" stroke="#000" stroke-width="0.2">Colon length (cm)</text>
<path d="M529.40 835.20 V719.10 H567.70 V835.20" fill="none" stroke="#0000ff" stroke-width="3.0" stroke-linejoin="miter"/>
<path d="M591.60 835.20 V765.00 H629.60 V835.20" fill="none" stroke="#ff0000" stroke-width="3.0" stroke-linejoin="miter"/>
<path d="M653.50 835.20 V754.50 H691.70 V835.20" fill="none" stroke="#000000" stroke-width="3.0" stroke-linejoin="miter"/>
<line x1="548.30" y1="711.10" x2="548.30" y2="722.30" stroke="#0000ff" stroke-width="1.1" />
<line x1="539.30" y1="711.10" x2="557.30" y2="711.10" stroke="#0000ff" stroke-width="1.1" />
<line x1="539.30" y1="722.30" x2="557.30" y2="722.30" stroke="#0000ff" stroke-width="1.1" />
<line x1="610.50" y1="760.70" x2="610.50" y2="769.00" stroke="#ff0000" stroke-width="1.1" />
<line x1="601.50" y1="760.70" x2="619.50" y2="760.70" stroke="#ff0000" stroke-width="1.1" />
<line x1="601.50" y1="769.00" x2="619.50" y2="769.00" stroke="#ff0000" stroke-width="1.1" />
<line x1="672.90" y1="741.50" x2="672.90" y2="763.50" stroke="#505050" stroke-width="1.1" />
<line x1="662.50" y1="741.50" x2="683.30" y2="741.50" stroke="#505050" stroke-width="1.1" />
<line x1="662.50" y1="763.50" x2="683.30" y2="763.50" stroke="#505050" stroke-width="1.1" />
<ellipse cx="531.60" cy="719.50" rx="4.43" ry="4.21" fill="#0000ff"/>
<ellipse cx="539.90" cy="713.90" rx="4.43" ry="4.21" fill="#0000ff"/>
<ellipse cx="548.30" cy="719.50" rx="4.43" ry="4.21" fill="#0000ff"/>
<ellipse cx="556.70" cy="707.80" rx="4.43" ry="4.21" fill="#0000ff"/>
<ellipse cx="556.70" cy="717.00" rx="4.43" ry="4.21" fill="#0000ff"/>
<ellipse cx="565.00" cy="720.90" rx="4.43" ry="4.21" fill="#0000ff"/>
<rect x="588.96" y="754.29" width="9.48" height="9.02" fill="#ff0000"/>
<rect x="588.96" y="766.59" width="9.48" height="9.02" fill="#ff0000"/>
<rect x="600.16" y="759.59" width="9.48" height="9.02" fill="#ff0000"/>
<rect x="611.26" y="753.99" width="9.48" height="9.02" fill="#ff0000"/>
<rect x="611.26" y="765.99" width="9.48" height="9.02" fill="#ff0000"/>
<rect x="622.46" y="760.39" width="9.48" height="9.02" fill="#ff0000"/>
<ellipse cx="655.60" cy="744.60" rx="5.25" ry="5.0" fill="#000000"/>
<ellipse cx="672.90" cy="746.80" rx="5.25" ry="5.0" fill="#000000"/>
<ellipse cx="689.60" cy="743.20" rx="5.25" ry="5.0" fill="#000000"/>
<ellipse cx="689.60" cy="751.60" rx="5.25" ry="5.0" fill="#000000"/>
<ellipse cx="672.90" cy="758.50" rx="5.25" ry="5.0" fill="#000000"/>
<ellipse cx="672.90" cy="771.40" rx="5.25" ry="5.0" fill="#000000"/>
<text x="611.0" y="747.4" font-family="'Liberation Serif', serif" font-size="13.8" font-weight="normal" text-anchor="middle" fill="#000" textLength="22" lengthAdjust="spacingAndGlyphs" >###</text>
<text x="672.3" y="738.6" font-family="'Liberation Sans', sans-serif" font-size="15" font-weight="normal" text-anchor="middle" fill="#000" >*</text>
<ellipse cx="744.60" cy="608.80" rx="4.6" ry="4.4" fill="#0000ff"/>
<text x="767.8" y="613.0" font-family="'Liberation Serif', serif" font-size="14.5" font-weight="normal" text-anchor="start" fill="#000" textLength="51.6" lengthAdjust="spacingAndGlyphs" >Control</text>
<rect x="740.00" y="630.15" width="9.2" height="8.7" fill="#ff0000"/>
<text x="767.8" y="638.6" font-family="'Liberation Serif', serif" font-size="14.5" font-weight="normal" text-anchor="start" fill="#000" textLength="43.4" lengthAdjust="spacingAndGlyphs" >Model</text>
<ellipse cx="744.60" cy="659.10" rx="5.1" ry="4.9" fill="#000000"/>
<text x="767.8" y="663.7" font-family="'Liberation Serif', serif" font-size="14.5" font-weight="normal" text-anchor="start" fill="#000" textLength="75.3" lengthAdjust="spacingAndGlyphs" >Mesalazine</text>
</g>
<g id="panelF">
<text x="22.0" y="886.6" font-family="'Liberation Serif', serif" font-size="16.6" font-weight="normal" text-anchor="start" fill="#000" textLength="9.88" lengthAdjust="spacingAndGlyphs" >F</text>
<g transform="translate(31.60,883.80) scale(1.0)"><path d="M6.4 -4.2 V0 H1.6" stroke="#848484" stroke-width="1.1" fill="none"/><path d="M0 0 L2.7 -2.9 L2.7 2.9 Z" fill="#848484"/></g>
<text x="194.5" y="890.8" font-family="'Liberation Serif', serif" font-size="18.3" font-weight="bold" text-anchor="middle" fill="#000" textLength="100.3" lengthAdjust="spacingAndGlyphs" >Colon/length</text>
<line x1="100.30" y1="917.10" x2="100.30" y2="1130.95" stroke="#000" stroke-width="2.1" />
<line x1="101.30" y1="1131.40" x2="291.50" y2="1131.40" stroke="#cfcfcf" stroke-width="0.9" stroke-dasharray="3.6 2.2"/>
<line x1="92.20" y1="1130.00" x2="291.50" y2="1130.00" stroke="#000" stroke-width="1.9" />
<text x="87.6" y="1135.2984" font-family="'Liberation Sans', sans-serif" font-size="14.8" font-weight="bold" text-anchor="end" fill="#000" textLength="7.0" lengthAdjust="spacingAndGlyphs" >0</text>
<line x1="92.20" y1="1059.30" x2="100.30" y2="1059.30" stroke="#000" stroke-width="1.5" />
<text x="87.6" y="1064.5983999999999" font-family="'Liberation Sans', sans-serif" font-size="14.8" font-weight="bold" text-anchor="end" fill="#000" textLength="14.0" lengthAdjust="spacingAndGlyphs" >50</text>
<line x1="92.20" y1="988.60" x2="100.30" y2="988.60" stroke="#000" stroke-width="1.5" />
<text x="87.6" y="993.8984" font-family="'Liberation Sans', sans-serif" font-size="14.8" font-weight="bold" text-anchor="end" fill="#000" textLength="21.0" lengthAdjust="spacingAndGlyphs" >100</text>
<line x1="92.20" y1="917.90" x2="100.30" y2="917.90" stroke="#000" stroke-width="1.5" />
<text x="87.6" y="923.1984" font-family="'Liberation Sans', sans-serif" font-size="14.8" font-weight="bold" text-anchor="end" fill="#000" textLength="21.0" lengthAdjust="spacingAndGlyphs" >150</text>
<text font-family="'Liberation Serif', serif" font-size="17.3" font-weight="bold" text-anchor="middle" fill="#000" textLength="95.7" lengthAdjust="spacingAndGlyphs" transform="translate(56.8,1022.9) rotate(-90)" stroke="#000" stroke-width="0.2">Colon/lenght</text>
<path d="M120.25 1130.00 V1095.95 H155.85 V1130.00" fill="none" stroke="#0000ff" stroke-width="2.5" stroke-linejoin="miter"/>
<path d="M178.05 1130.00 V998.35 H213.55 V1130.00" fill="none" stroke="#ff0000" stroke-width="2.5" stroke-linejoin="miter"/>
<path d="M235.20 1130.00 V1059.70 H270.90 V1130.00" fill="none" stroke="#000000" stroke-width="2.6" stroke-linejoin="miter"/>
<line x1="138.30" y1="1089.60" x2="138.30" y2="1099.50" stroke="#0000ff" stroke-width="1.1" />
<line x1="129.80" y1="1089.60" x2="146.80" y2="1089.60" stroke="#0000ff" stroke-width="1.1" />
<line x1="129.80" y1="1099.50" x2="146.80" y2="1099.50" stroke="#0000ff" stroke-width="1.1" />
<line x1="195.70" y1="980.50" x2="195.70" y2="1012.40" stroke="#ff0000" stroke-width="1.1" />
<line x1="186.20" y1="980.50" x2="205.20" y2="980.50" stroke="#ff0000" stroke-width="1.1" />
<line x1="186.20" y1="1012.40" x2="205.20" y2="1012.40" stroke="#ff0000" stroke-width="1.1" />
<line x1="253.20" y1="1038.00" x2="253.20" y2="1077.30" stroke="#505050" stroke-width="1.1" />
<line x1="243.50" y1="1038.00" x2="262.90" y2="1038.00" stroke="#505050" stroke-width="1.1" />
<line x1="243.50" y1="1077.30" x2="262.90" y2="1077.30" stroke="#505050" stroke-width="1.1" />
<ellipse cx="122.90" cy="1089.10" rx="4.09" ry="4.49" fill="#0000ff"/>
<ellipse cx="130.60" cy="1090.60" rx="4.09" ry="4.49" fill="#0000ff"/>
<ellipse cx="138.30" cy="1095.70" rx="4.09" ry="4.49" fill="#0000ff"/>
<ellipse cx="145.90" cy="1094.70" rx="4.09" ry="4.49" fill="#0000ff"/>
<ellipse cx="153.60" cy="1089.60" rx="4.09" ry="4.49" fill="#0000ff"/>
<ellipse cx="122.90" cy="1097.20" rx="4.09" ry="4.49" fill="#0000ff"/>
<ellipse cx="153.60" cy="1100.60" rx="4.09" ry="4.49" fill="#0000ff"/>
<rect x="176.22" y="980.51" width="8.37" height="9.18" fill="#ff0000"/>
<rect x="186.41" y="984.31" width="8.37" height="9.18" fill="#ff0000"/>
<rect x="196.62" y="983.01" width="8.37" height="9.18" fill="#ff0000"/>
<rect x="206.91" y="979.71" width="8.37" height="9.18" fill="#ff0000"/>
<rect x="196.62" y="1008.31" width="8.37" height="9.18" fill="#ff0000"/>
<rect x="186.41" y="1016.21" width="8.37" height="9.18" fill="#ff0000"/>
<ellipse cx="237.90" cy="1061.00" rx="4.74" ry="5.2" fill="#000000"/>
<ellipse cx="268.60" cy="1062.20" rx="4.74" ry="5.2" fill="#000000"/>
<ellipse cx="248.60" cy="1067.90" rx="4.74" ry="5.2" fill="#000000"/>
<ellipse cx="258.30" cy="1067.90" rx="4.74" ry="5.2" fill="#000000"/>
<ellipse cx="253.20" cy="1026.50" rx="4.74" ry="5.2" fill="#000000"/>
<ellipse cx="253.20" cy="1034.90" rx="4.74" ry="5.2" fill="#000000"/>
<ellipse cx="253.20" cy="1083.20" rx="4.74" ry="5.2" fill="#000000"/>
<text x="196.2" y="968.5" font-family="'Liberation Serif', serif" font-size="14.2" font-weight="normal" text-anchor="middle" fill="#000" textLength="20.4" lengthAdjust="spacingAndGlyphs" >###</text>
<text x="252.7" y="1020.7" font-family="'Liberation Sans', sans-serif" font-size="15" font-weight="normal" text-anchor="middle" fill="#000" >*</text>
<ellipse cx="329.30" cy="880.60" rx="4.2" ry="4.7" fill="#0000ff"/>
<text x="350.8" y="885.4" font-family="'Liberation Serif', serif" font-size="16.5" font-weight="normal" text-anchor="start" fill="#000" textLength="47.5" lengthAdjust="spacingAndGlyphs" >Control</text>
<rect x="325.10" y="904.60" width="8.6" height="9.2" fill="#ff0000"/>
<text x="350.8" y="914.1" font-family="'Liberation Serif', serif" font-size="16.5" font-weight="normal" text-anchor="start" fill="#000" textLength="40.3" lengthAdjust="spacingAndGlyphs" >Model</text>
<ellipse cx="329.00" cy="938.20" rx="4.7" ry="5.3" fill="#000000"/>
<text x="350.8" y="942.8" font-family="'Liberation Serif', serif" font-size="16.5" font-weight="normal" text-anchor="start" fill="#000" textLength="70.2" lengthAdjust="spacingAndGlyphs" >Mesalazine</text>
</g>
<g id="panelG">
<text x="451.5" y="887.2" font-family="'Liberation Serif', serif" font-size="16.6" font-weight="normal" text-anchor="start" fill="#000" textLength="12.82" lengthAdjust="spacingAndGlyphs" >G</text>
<g transform="translate(464.10,884.40) scale(1.0)"><path d="M6.4 -4.2 V0 H1.6" stroke="#848484" stroke-width="1.1" fill="none"/><path d="M0 0 L2.7 -2.9 L2.7 2.9 Z" fill="#848484"/></g>
<text x="607.2" y="880.1" font-family="'Liberation Serif', serif" font-size="18.0" font-weight="bold" text-anchor="middle" fill="#000" textLength="44.4" lengthAdjust="spacingAndGlyphs" >MPO</text>
<line x1="509.00" y1="930.00" x2="509.00" y2="1129.75" stroke="#000" stroke-width="2.1" />
<line x1="510.00" y1="1130.20" x2="706.30" y2="1130.20" stroke="#cfcfcf" stroke-width="0.9" stroke-dasharray="3.6 2.2"/>
<line x1="501.20" y1="1128.70" x2="706.30" y2="1128.70" stroke="#000" stroke-width="2.1" />
<text x="497.0" y="1133.712" font-family="'Liberation Sans', sans-serif" font-size="14.0" font-weight="bold" text-anchor="end" fill="#000" textLength="7.8" lengthAdjust="spacingAndGlyphs" >0</text>
<line x1="501.20" y1="1062.73" x2="509.00" y2="1062.73" stroke="#000" stroke-width="1.5" />
<text x="497.0" y="1067.7453333333333" font-family="'Liberation Sans', sans-serif" font-size="14.0" font-weight="bold" text-anchor="end" fill="#000" textLength="31.5" lengthAdjust="spacingAndGlyphs" >2000</text>
<line x1="501.20" y1="996.77" x2="509.00" y2="996.77" stroke="#000" stroke-width="1.5" />
<text x="497.0" y="1001.7786666666666" font-family="'Liberation Sans', sans-serif" font-size="14.0" font-weight="bold" text-anchor="end" fill="#000" textLength="31.5" lengthAdjust="spacingAndGlyphs" >4000</text>
<line x1="501.20" y1="930.80" x2="509.00" y2="930.80" stroke="#000" stroke-width="1.5" />
<text x="497.0" y="935.8119999999999" font-family="'Liberation Sans', sans-serif" font-size="14.0" font-weight="bold" text-anchor="end" fill="#000" textLength="31.5" lengthAdjust="spacingAndGlyphs" >6000</text>
<text font-family="'Liberation Serif', serif" font-size="16.9" font-weight="normal" text-anchor="middle" fill="#000" textLength="97.4" lengthAdjust="spacingAndGlyphs" transform="translate(455.7,1029.3) rotate(-90)" stroke="#000" stroke-width="0.2">MPO (pg/mg)</text>
<path d="M530.60 1128.70 V1076.30 H566.80 V1128.70" fill="none" stroke="#0000ff" stroke-width="2.6" stroke-linejoin="miter"/>
<path d="M589.50 1128.70 V1008.30 H625.60 V1128.70" fill="none" stroke="#ff0000" stroke-width="2.6" stroke-linejoin="miter"/>
<path d="M648.60 1128.70 V1047.40 H684.30 V1128.70" fill="none" stroke="#000000" stroke-width="2.8" stroke-linejoin="miter"/>
<line x1="548.90" y1="1076.00" x2="548.90" y2="1062.50" stroke="#0000ff" stroke-width="1.1" />
<line x1="538.50" y1="1062.50" x2="559.30" y2="1062.50" stroke="#0000ff" stroke-width="1.1" />
<line x1="607.70" y1="1008.00" x2="607.70" y2="983.90" stroke="#ff0000" stroke-width="1.1" />
<line x1="597.80" y1="983.90" x2="617.60" y2="983.90" stroke="#ff0000" stroke-width="1.1" />
<line x1="666.80" y1="1047.00" x2="666.80" y2="1036.30" stroke="#222" stroke-width="1.1" />
<line x1="656.70" y1="1036.30" x2="676.90" y2="1036.30" stroke="#222" stroke-width="1.1" />
<ellipse cx="533.00" cy="1062.80" rx="4.3" ry="4.3" fill="#0000ff"/>
<ellipse cx="565.00" cy="1063.30" rx="4.3" ry="4.3" fill="#0000ff"/>
<ellipse cx="548.90" cy="1068.30" rx="4.3" ry="4.3" fill="#0000ff"/>
<ellipse cx="540.80" cy="1079.20" rx="4.3" ry="4.3" fill="#0000ff"/>
<ellipse cx="556.70" cy="1082.80" rx="4.3" ry="4.3" fill="#0000ff"/>
<ellipse cx="548.90" cy="1093.10" rx="4.3" ry="4.3" fill="#0000ff"/>
<rect x="603.20" y="959.90" width="9.0" height="9.0" fill="#ff0000"/>
<rect x="595.40" y="998.00" width="9.0" height="9.0" fill="#ff0000"/>
<rect x="595.40" y="1008.60" width="9.0" height="9.0" fill="#ff0000"/>
<rect x="611.20" y="1005.00" width="9.0" height="9.0" fill="#ff0000"/>
<rect x="611.20" y="1017.80" width="9.0" height="9.0" fill="#ff0000"/>
<rect x="595.40" y="1023.40" width="9.0" height="9.0" fill="#ff0000"/>
<ellipse cx="666.80" cy="1029.30" rx="5.0" ry="5.0" fill="#000000"/>
<ellipse cx="650.60" cy="1046.00" rx="5.0" ry="5.0" fill="#000000"/>
<ellipse cx="661.20" cy="1045.20" rx="5.0" ry="5.0" fill="#000000"/>
<ellipse cx="672.30" cy="1050.80" rx="5.0" ry="5.0" fill="#000000"/>
<ellipse cx="682.90" cy="1045.70" rx="5.0" ry="5.0" fill="#000000"/>
<ellipse cx="661.20" cy="1057.70" rx="5.0" ry="5.0" fill="#000000"/>
<text x="607.7" y="951.5" font-family="'Liberation Serif', serif" font-size="14.2" font-weight="normal" text-anchor="middle" fill="#000" textLength="20.4" lengthAdjust="spacingAndGlyphs" >###</text>
<ellipse cx="747.80" cy="895.10" rx="4.4" ry="4.4" fill="#0000ff"/>
<text x="770.0" y="899.9" font-family="'Liberation Serif', serif" font-size="15.4" font-weight="normal" text-anchor="start" fill="#000" textLength="49.1" lengthAdjust="spacingAndGlyphs" >Control</text>
<rect x="743.35" y="917.60" width="8.9" height="9.0" fill="#ff0000"/>
<text x="770.0" y="926.1" font-family="'Liberation Serif', serif" font-size="15.4" font-weight="normal" text-anchor="start" fill="#000" textLength="41.3" lengthAdjust="spacingAndGlyphs" >Model</text>
<ellipse cx="747.50" cy="947.10" rx="4.9" ry="4.9" fill="#000000"/>
<text x="770.0" y="951.2" font-family="'Liberation Serif', serif" font-size="15.4" font-weight="normal" text-anchor="start" fill="#000" textLength="72.1" lengthAdjust="spacingAndGlyphs" >Mesalazine</text>
</g>
</svg>
</body></html>
